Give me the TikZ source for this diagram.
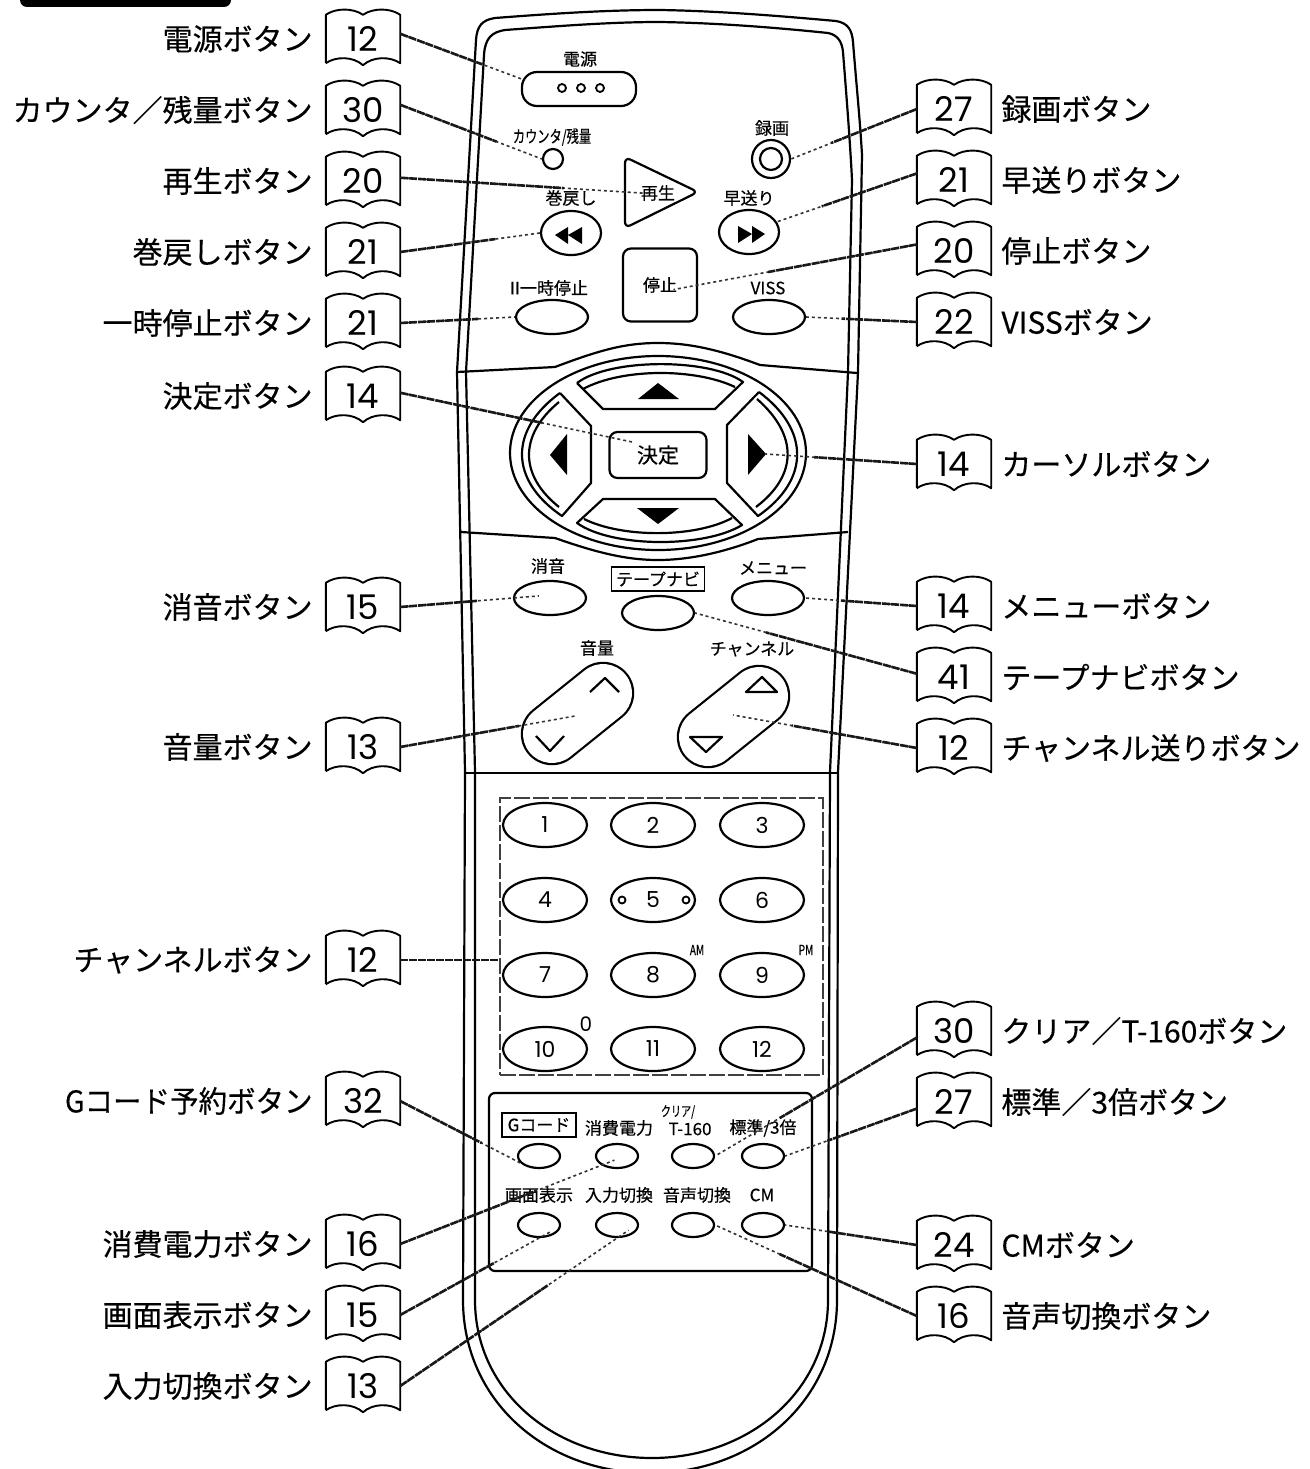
\documentclass[tikz,border=0pt]{standalone}
\usepackage{graphicx}
\usepackage{fontspec}
\setmainfont{Noto Sans CJK JP}[FakeBold=0.35]
\newfontfamily\digitfont{Poppins}
\usetikzlibrary{positioning,shapes.geometric,calc}
\newcommand{\remotefont}[1]{\fontsize{#1}{#1}\selectfont}
\newcommand{\narrowtext}[1]{\scalebox{0.72}[1]{#1}}
\newcommand{\leaderline}[3][]{\draw [leaderfaint, #1] (#2) -- (#3); \draw [leaderheavy] (#2) -- ($(#2)!0.68!(#3)$);}
\tikzstyle{outline} = [line width=2.2pt, line join=round]
\tikzstyle{bookpage} = [rectangle, minimum width=74pt, minimum height=48pt, inner sep=0pt, font=\digitfont\remotefont{34},
  append after command={\pgfextra{\draw [line width=1.9pt, line join=round]
    (\tikzlastnode.south west) -- (\tikzlastnode.north west)
    .. controls ([xshift=10pt,yshift=7pt]\tikzlastnode.north west) and ([xshift=-10pt,yshift=7pt]\tikzlastnode.north) .. (\tikzlastnode.north)
    .. controls ([xshift=10pt,yshift=7pt]\tikzlastnode.north) and ([xshift=-10pt,yshift=7pt]\tikzlastnode.north east) .. (\tikzlastnode.north east)
    -- (\tikzlastnode.south east)
    .. controls ([xshift=-10pt,yshift=7pt]\tikzlastnode.south east) and ([xshift=10pt,yshift=7pt]\tikzlastnode.south) .. ([yshift=-2pt]\tikzlastnode.south)
    .. controls ([xshift=-10pt,yshift=7pt]\tikzlastnode.south) and ([xshift=10pt,yshift=7pt]\tikzlastnode.south west) .. (\tikzlastnode.south west);}}]
\tikzstyle{btnname} = [inner sep=0pt, font=\remotefont{30}]
\tikzstyle{keytext} = [inner sep=0pt, font=\remotefont{17}]
\tikzstyle{bigoval} = [ellipse, draw=black, outline, minimum width=72pt, minimum height=34pt, inner sep=0pt]
\tikzstyle{padoval} = [ellipse, draw=black, outline, minimum width=84pt, minimum height=44pt, inner sep=0pt, font=\digitfont\remotefont{22}]
\tikzstyle{smalloval} = [ellipse, draw=black, outline, minimum width=42pt, minimum height=24pt, inner sep=0pt]
\tikzstyle{roundkey} = [ellipse, draw=black, outline, minimum width=60pt, minimum height=44pt, inner sep=0pt]
\tikzstyle{squarekey} = [rectangle, rounded corners=8pt, draw=black, outline, inner sep=0pt, font=\remotefont{17}]
\tikzstyle{labelbox} = [rectangle, draw=black, line width=1.8pt, inner sep=0pt, font=\remotefont{17}]
\tikzstyle{capsule} = [line width=2.2pt, double=white, double distance=58pt, line cap=round]
\tikzstyle{leaderheavy} = [line width=2.6pt, draw=black!90, dash pattern=on 8pt off 1pt]
\tikzstyle{leaderfaint} = [line width=1.6pt, draw=black!80, dash pattern=on 3pt off 3pt]

\begin{document}
\begin{tikzpicture}[x=1pt, y=-1pt, node distance=71pt]
\useasboundingbox (0,0) rectangle (1309,1469);

\fill [rounded corners=7pt] (20,-12) rectangle (231,7);

% case of the remote
\draw [outline] (463,1300) -- (465,772) -- (457,372) -- (476,40)
  .. controls (477,26) and (482,20) .. (495,18) .. controls (560,13) and (610,10) .. (660,10)
  .. controls (720,11) and (780,16) .. (836,21) .. controls (848,23) and (852,30) .. (853,42)
  .. controls (856,80) and (860,120) .. (862,155) -- (858,372) -- (838,772) -- (837,1300)
  .. controls (837,1400) and (755,1473) .. (650,1473) .. controls (545,1473) and (463,1400) .. (463,1300);
\draw [outline] (475,1300) -- (475,772) -- (466,372) -- (484,55)
  .. controls (485,38) and (492,32) .. (505,30) .. controls (560,26) and (610,22) .. (660,22)
  .. controls (720,23) and (780,28) .. (828,33) .. controls (838,35) and (842,42) .. (843,52)
  .. controls (846,90) and (850,140) .. (852,180) -- (848,372) -- (830,772) -- (828,1300)
  .. controls (828,1392) and (748,1458) .. (652,1458) .. controls (555,1458) and (475,1392) .. (475,1300);
\draw [outline] (457,372) -- (555,367) .. controls (600,350) and (625,343) .. (658,343) .. controls (690,343) and (720,350) .. (760,365) -- (857,373);
\draw [outline] (461,532) -- (555,538) .. controls (595,552) and (625,560) .. (658,560) .. controls (690,560) and (725,552) .. (758,539) -- (848,532);
\draw [outline] (465,773) -- (838,773);

% top keys
\node (powertext) [keytext] at (580,59) {電源};
\node (powerkey) [rectangle, rounded corners=15pt, draw=black, outline, minimum width=114pt, minimum height=34pt] at (579,89) {};
\foreach \dotx in {562,581,600}
  \draw [line width=1.8pt] (\dotx,88) circle (4pt);
\node (counttext) [keytext] at (552,137) {\narrowtext{カウンタ/残量}};
\node (countkey) [circle, draw=black, outline, minimum size=20pt, inner sep=0pt] at (553,159) {};
\node (rectext) [keytext] at (772,128) {録画};
\node (reckey) [circle, draw=black, outline, minimum size=38pt, inner sep=0pt] at (771,159) {};
\draw [outline] (reckey.center) circle (11pt);
\draw [outline, rounded corners=6pt] (625,157) -- (698,192) -- (625,228) -- cycle;
\node (playkey) [keytext] at (658,193) {再生};
\node (rewtext) [keytext] at (571,198) {巻戻し};
\node (rewkey) [roundkey] at (571,233) {};
\fill (555,235) -- (568,227) -- (568,244) -- cycle (568,235) -- (582,227) -- (582,244) -- cycle;
\node (fftext) [keytext] at (749,198) {早送り};
\node (ffkey) [roundkey] at (749,232) {};
\fill (738,226) -- (752,234) -- (738,243) -- cycle (752,226) -- (765,234) -- (752,243) -- cycle;
\node (stopkey) [squarekey, minimum width=74pt, minimum height=73pt] at (660,285) {停止};
\node (pausetext) [keytext] at (549,288) {II一時停止};
\node (pausekey) [bigoval] at (552,317) {};
\node (visstext) [keytext] at (768,288) {VISS};
\node (visskey) [bigoval] at (769,317) {};

% cursor keys
\node (cursorring) [ellipse, draw=black, outline, minimum width=296pt, minimum height=194pt] at (658,453) {};
\draw [outline] (577,383) -- (603,409) -- (715,409) -- (743,382) .. controls (710,358) and (610,358) .. (577,383);
\draw [outline] (735,387) .. controls (695,368) and (622,368) .. (583,389);
\draw [outline] (603,499) -- (715,499) -- (742,525) .. controls (705,548) and (612,548) .. (577,523) -- cycle;
\draw [outline] (732,518) .. controls (695,538) and (622,538) .. (584,519);
\draw [outline] (560,393) -- (591,426) -- (591,483) -- (562,516) .. controls (509,480) and (509,430) .. (560,393);
\draw [outline] (559,402) .. controls (519,435) and (519,475) .. (559,507);
\draw [outline] (759,392) -- (727,425) -- (727,483) -- (758,516) .. controls (810,480) and (810,430) .. (759,392);
\draw [outline] (757,399) .. controls (798,435) and (798,475) .. (756,507);
\fill (638,399) -- (658,383) -- (679,399) -- cycle;
\fill (637,508) -- (679,508) -- (658,524) -- cycle;
\fill (567,434) -- (550,455) -- (567,475) -- cycle;
\fill (748,434) -- (766,454) -- (748,475) -- cycle;
\node (enterkey) [squarekey, minimum width=97pt, minimum height=46pt, font=\remotefont{21}] at (658,455) {決定};

% middle keys
\node (mutetext) [keytext] at (548,566) {消音};
\node (mutekey) [bigoval] at (550,598) {};
\node (tapenavitext) [labelbox, minimum width=93pt, minimum height=24pt] at (658,579) {テープナビ};
\node (tapenavikey) [bigoval] at (658,613) {};
\node (menutext) [keytext] at (773,568) {メニュー};
\node (menukey) [bigoval] at (768,598) {};
\node (volumetext) [keytext] at (597,648) {音量};
\node (channeltext) [keytext] at (752,649) {チャンネル};
\draw [capsule] (603,693) -- (552,734);
\draw [capsule] (759,696) -- (708,737);
\coordinate (volumecentre) at (575,716);
\coordinate (channelcentre) at (733,715);
\draw [outline] (590,692) -- (605,678) -- (619,692);
\draw [outline] (536,736) -- (550,751) -- (564,736);
\draw [outline] (746,692) -- (762,677) -- (777,692) -- cycle;
\draw [outline] (690,737) -- (722,737) -- (706,752) -- cycle;

% number keys
\node (numberpad) [rectangle, draw=black!75, line width=1.8pt, dash pattern=on 16pt off 3pt, minimum width=323pt, minimum height=277pt] at (661.5,936.5) {};
\node (key1) [padoval] at (545,825) {1};
\node (key2) [padoval] at (653,825) {2};
\node (key3) [padoval] at (762,825) {3};
\node (key4) [padoval] at (545,900) {4};
\node (key5) [padoval] at (653,900) {5};
\node (key6) [padoval] at (762,900) {6};
\node (key7) [padoval] at (545,975) {7};
\node (key8) [padoval] at (653,975) {8};
\node (key9) [padoval] at (762,975) {9};
\node (key10) [padoval] at (545,1049) {10};
\node (key11) [padoval] at (653,1049) {11};
\node (key12) [padoval] at (762,1049) {12};
\draw [line width=1.8pt] (622,900) circle (3.5pt) (686,900) circle (3.5pt);
\node (amtext) [keytext, font=\remotefont{14}] at (697,950) {\narrowtext{AM}};
\node (pmtext) [keytext, font=\remotefont{14}] at (806,950) {\narrowtext{PM}};
\node (zerotext) [keytext, font=\digitfont\remotefont{20}] at (586,1024) {0};

% lower panel
\node (lowerpanel) [rectangle, rounded corners=6pt, draw=black, outline, minimum width=323pt, minimum height=178pt] at (650.5,1182) {};
\node (gcodetext) [labelbox, minimum width=74pt, minimum height=24pt] at (539,1125) {Gコード};
\node (powersavetext) [keytext] at (619,1128) {消費電力};
\node (cleartext) [keytext, font=\remotefont{14}] at (678,1112) {\narrowtext{クリア/}};
\node (t160text) [keytext] at (690,1129) {T-160};
\node (speedtext) [keytext] at (763,1128) {標準/3倍};
\node (gcodekey) [smalloval] at (539,1156) {};
\node (powersavekey) [smalloval] at (617,1156) {};
\node (clearkey) [smalloval] at (693,1156) {};
\node (speedkey) [smalloval] at (763,1156) {};
\node (displaytext) [keytext] at (539,1195) {画面表示};
\node (inputtext) [keytext] at (619,1195) {入力切換};
\node (audiotext) [keytext] at (697,1195) {音声切換};
\node (cmtext) [keytext] at (762,1195) {CM};
\node (displaykey) [smalloval] at (539,1225) {};
\node (inputkey) [smalloval] at (617,1225) {};
\node (audiokey) [smalloval] at (693,1225) {};
\node (cmkey) [smalloval] at (763,1225) {};

% pages on the left
\node (bookpower) [bookpage] at (363,39) {12};
\node (bookcount) [bookpage, below of=bookpower] {30};
\node (bookplay) [bookpage, below of=bookcount] {20};
\node (bookrew) [bookpage, below of=bookplay] {21};
\node (bookpause) [bookpage, below of=bookrew] {21};
\node (bookenter) [bookpage, below of=bookpause, yshift=-2pt] {14};
\node (bookmute) [bookpage, below of=bookenter, yshift=-140pt] {15};
\node (bookvolume) [bookpage, below of=bookmute, yshift=-69pt] {13};
\node (bookpad) [bookpage, below of=bookvolume, yshift=-142pt] {12};
\node (bookgcode) [bookpage, below of=bookpad, yshift=-70pt] {32};
\node (booksave) [bookpage, below of=bookgcode, yshift=-72pt] {16};
\node (bookdisplay) [bookpage, below of=booksave] {15};
\node (bookinput) [bookpage, below of=bookdisplay] {13};

% pages on the right
\node (bookrec) [bookpage] at (954,109) {27};
\node (bookff) [bookpage, below of=bookrec] {21};
\node (bookstop) [bookpage, below of=bookff] {20};
\node (bookviss) [bookpage, below of=bookstop] {22};
\node (bookcursor) [bookpage, below of=bookviss, yshift=-71pt] {14};
\node (bookmenu) [bookpage, below of=bookcursor, yshift=-71pt] {14};
\node (booktapenavi) [bookpage, below of=bookmenu] {41};
\node (bookchannel) [bookpage, below of=booktapenavi] {12};
\node (bookclear) [bookpage, below of=bookchannel, yshift=-212pt] {30};
\node (bookspeed) [bookpage, below of=bookclear] {27};
\node (bookcm) [bookpage, below of=bookspeed, yshift=-72pt] {24};
\node (bookaudio) [bookpage, below of=bookcm] {16};

\node (namepower) [btnname, left=13pt of bookpower] {電源ボタン};
\node (namecount) [btnname, left=13pt of bookcount] {カウンタ／残量ボタン};
\node (nameplay) [btnname, left=13pt of bookplay] {再生ボタン};
\node (namerew) [btnname, left=13pt of bookrew] {巻戻しボタン};
\node (namepause) [btnname, left=13pt of bookpause] {一時停止ボタン};
\node (nameenter) [btnname, left=13pt of bookenter] {決定ボタン};
\node (namemute) [btnname, left=13pt of bookmute] {消音ボタン};
\node (namevolume) [btnname, left=13pt of bookvolume] {音量ボタン};
\node (namepad) [btnname, left=13pt of bookpad] {チャンネルボタン};
\node (namegcode) [btnname, left=13pt of bookgcode] {\scalebox{0.95}[1]{Gコード予約ボタン}};
\node (namesave) [btnname, left=13pt of booksave] {消費電力ボタン};
\node (namedisplay) [btnname, left=13pt of bookdisplay] {画面表示ボタン};
\node (nameinput) [btnname, left=13pt of bookinput] {入力切換ボタン};

\node (namerec) [btnname, right=10pt of bookrec] {録画ボタン};
\node (nameff) [btnname, right=10pt of bookff] {早送りボタン};
\node (namestop) [btnname, right=10pt of bookstop] {停止ボタン};
\node (nameviss) [btnname, right=10pt of bookviss] {VISSボタン};
\node (namecursor) [btnname, right=10pt of bookcursor] {カーソルボタン};
\node (namemenu) [btnname, right=10pt of bookmenu] {メニューボタン};
\node (nametapenavi) [btnname, right=10pt of booktapenavi] {テープナビボタン};
\node (namechannel) [btnname, right=10pt of bookchannel] {チャンネル送りボタン};
\node (nameclear) [btnname, right=10pt of bookclear] {クリア／T-160ボタン};
\node (namespeed) [btnname, right=10pt of bookspeed] {標準／3倍ボタン};
\node (namecm) [btnname, right=10pt of bookcm] {CMボタン};
\node (nameaudio) [btnname, right=10pt of bookaudio] {音声切換ボタン};

\leaderline{bookpower.8}{powerkey.170}
\leaderline{bookcount.8}{countkey.west}
\leaderline[shorten >=-10pt]{bookplay.5}{playkey.west}
\leaderline{bookrew.east}{rewkey.west}
\leaderline{bookpause.east}{pausekey.west}
\leaderline[shorten >=-27pt]{bookenter.5}{enterkey.160}
\leaderline[shorten >=-26pt]{bookmute.east}{mutekey.west}
\leaderline{bookvolume.east}{volumecentre}
\draw [leaderheavy] (bookpad.east) -- (numberpad.west |- bookpad.east);
\leaderline{bookgcode.east}{gcodekey.200}
\leaderline[shorten >=-14pt]{booksave.east}{powersavekey.south west}
\leaderline[shorten >=-14pt]{bookdisplay.east}{displaykey.south}
\leaderline[shorten >=-14pt]{bookinput.east}{inputkey.south}

\leaderline{bookrec.west}{reckey.east}
\leaderline{bookff.170}{ffkey.20}
\leaderline[shorten >=-25pt]{bookstop.170}{stopkey.east}
\leaderline{bookviss.west}{visskey.east}
\leaderline{bookcursor.west}{766,454}
\leaderline{bookmenu.west}{menukey.east}
\leaderline{booktapenavi.175}{tapenavikey.east}
\leaderline{bookchannel.west}{channelcentre}
\leaderline{bookclear.190}{clearkey.east}
\leaderline{bookspeed.190}{speedkey.east}
\leaderline{bookcm.west}{cmkey.east}
\leaderline{bookaudio.west}{audiokey.east}

\end{tikzpicture}
\end{document}
